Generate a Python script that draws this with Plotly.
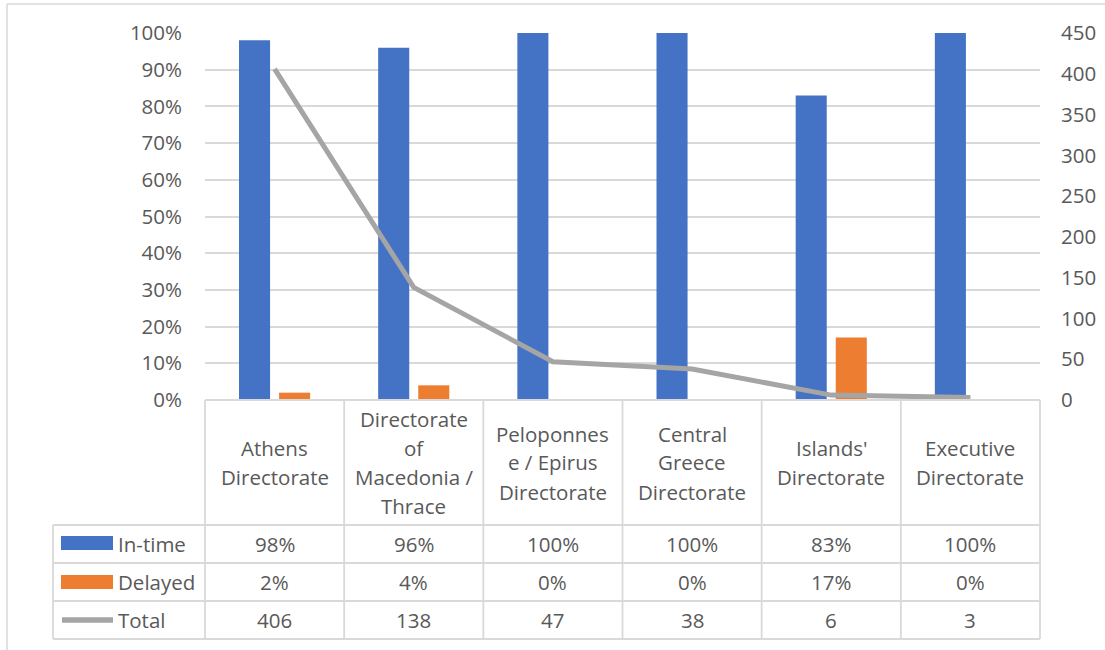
import plotly.graph_objects as go

# --- data -----------------------------------------------------------------
categories = [
    "Athens Directorate",
    "Directorate of Macedonia / Thrace",
    "Peloponnese / Epirus Directorate",
    "Central Greece Directorate",
    "Islands' Directorate",
    "Executive Directorate",
]
# category labels as they wrap inside the table header cells
header_lines = [
    ["Athens", "Directorate"],
    ["Directorate", "of", "Macedonia /", "Thrace"],
    ["Peloponnes", "e / Epirus", "Directorate"],
    ["Central", "Greece", "Directorate"],
    ["Islands'", "Directorate"],
    ["Executive", "Directorate"],
]
in_time = [0.98, 0.96, 1.00, 1.00, 0.83, 1.00]
delayed = [0.02, 0.04, 0.00, 0.00, 0.17, 0.00]
total = [406, 138, 47, 38, 6, 3]
series_names = ["In-time", "Delayed", "Total"]

# --- styling --------------------------------------------------------------
BLUE, ORANGE, GREY = "#4472C4", "#ED7D31", "#A5A5A5"
TEXT = "#595959"
RULE = "#D9D9D9"
FONT = "Open Sans"
FS = 20.5

W, H = 1105, 650
L, R, T, B = 205, 65, 33, 250
PW, PH = W - L - R, H - T - B


def px_x(px):
    return (px - L) / PW


def px_y(py):
    return (H - B - py) / PH


n = len(categories)
xs = list(range(n))

fig = go.Figure()
fig.add_trace(go.Bar(x=xs, y=in_time, name=series_names[0], marker_color=BLUE,
                     marker_line_width=0))
fig.add_trace(go.Bar(x=xs, y=delayed, name=series_names[1], marker_color=ORANGE,
                     marker_line_width=0))
fig.add_trace(go.Scatter(x=xs, y=total, name=series_names[2], yaxis="y2",
                         mode="lines", line=dict(color=GREY, width=5)))

shapes = []
annotations = []

# outer chart frame
shapes.append(dict(type="line", xref="paper", yref="paper",
                   x0=px_x(7), x1=px_x(7), y0=px_y(4), y1=px_y(660),
                   line=dict(color=RULE, width=1.5)))
shapes.append(dict(type="line", xref="paper", yref="paper",
                   x0=px_x(7), x1=px_x(1120), y0=px_y(4), y1=px_y(4),
                   line=dict(color=RULE, width=1.5)))

# data table grid
row_tops = [525, 563, 601, 639]
for k in range(n + 1):
    shapes.append(dict(type="line", xref="paper", yref="paper",
                       x0=k / n, x1=k / n, y0=px_y(400), y1=px_y(639),
                       line=dict(color=RULE, width=1.8)))
shapes.append(dict(type="line", xref="paper", yref="paper",
                   x0=px_x(53), x1=px_x(53), y0=px_y(525), y1=px_y(639),
                   line=dict(color=RULE, width=1.8)))
shapes.append(dict(type="line", xref="paper", yref="paper",
                   x0=0, x1=1, y0=px_y(400), y1=px_y(400),
                   line=dict(color=RULE, width=1.8)))
for yy in row_tops:
    shapes.append(dict(type="line", xref="paper", yref="paper",
                       x0=px_x(53), x1=1, y0=px_y(yy), y1=px_y(yy),
                       line=dict(color=RULE, width=1.8)))

# header cells (category names)
line_gap = 29
header_mid = (400 + 525) / 2
for i, lines in enumerate(header_lines):
    first = header_mid - line_gap * (len(lines) - 1) / 2
    for j, txt in enumerate(lines):
        annotations.append(dict(x=i, xref="x", y=px_y(first + j * line_gap),
                                yref="paper", text=txt, showarrow=False,
                                xanchor="center", yanchor="middle",
                                font=dict(family=FONT, size=FS, color=TEXT)))

# value rows
row_mid = [(row_tops[k] + row_tops[k + 1]) / 2 for k in range(3)]
rows = [
    [f"{v:.0%}" for v in in_time],
    [f"{v:.0%}" for v in delayed],
    [f"{v}" for v in total],
]
for r, vals in enumerate(rows):
    for i, txt in enumerate(vals):
        annotations.append(dict(x=i, xref="x", y=px_y(row_mid[r]), yref="paper",
                                text=txt, showarrow=False, xanchor="center",
                                yanchor="middle",
                                font=dict(family=FONT, size=FS, color=TEXT)))
    annotations.append(dict(x=px_x(116), xref="paper", y=px_y(row_mid[r]),
                            yref="paper", text=series_names[r], showarrow=False,
                            xanchor="left", yanchor="middle",
                            font=dict(family=FONT, size=FS, color=TEXT)))

# legend keys inside the table
shapes.append(dict(type="rect", xref="paper", yref="paper",
                   x0=px_x(61), x1=px_x(113), y0=px_y(536), y1=px_y(550),
                   fillcolor=BLUE, line=dict(width=0)))
shapes.append(dict(type="rect", xref="paper", yref="paper",
                   x0=px_x(61), x1=px_x(113), y0=px_y(575), y1=px_y(589),
                   fillcolor=ORANGE, line=dict(width=0)))
shapes.append(dict(type="line", xref="paper", yref="paper",
                   x0=px_x(62), x1=px_x(113), y0=px_y(620), y1=px_y(620),
                   line=dict(color=GREY, width=5.5)))

fig.update_layout(
    width=W, height=H,
    margin=dict(l=L, r=R, t=T, b=B, autoexpand=False),
    paper_bgcolor="white", plot_bgcolor="white",
    barmode="group", bargap=0.424, bargroupgap=0.225,
    showlegend=False,
    font=dict(family=FONT, size=FS, color=TEXT),
    xaxis=dict(range=[-0.5, n - 0.5], showticklabels=False, showgrid=False,
               zeroline=False, showline=False, fixedrange=True),
    yaxis=dict(range=[0, 1], dtick=0.1, tickformat=".0%", showgrid=True,
               gridcolor=RULE, gridwidth=1.5, zeroline=False, showline=False,
               ticklabelstandoff=22,
               tickfont=dict(family=FONT, size=FS, color=TEXT)),
    yaxis2=dict(range=[0, 450], dtick=50, overlaying="y", side="right",
                showgrid=False, zeroline=False, showline=False,
                ticklabelstandoff=20,
                tickfont=dict(family=FONT, size=FS, color=TEXT)),
    shapes=shapes,
    annotations=annotations,
)

fig.write_html("out.html")
